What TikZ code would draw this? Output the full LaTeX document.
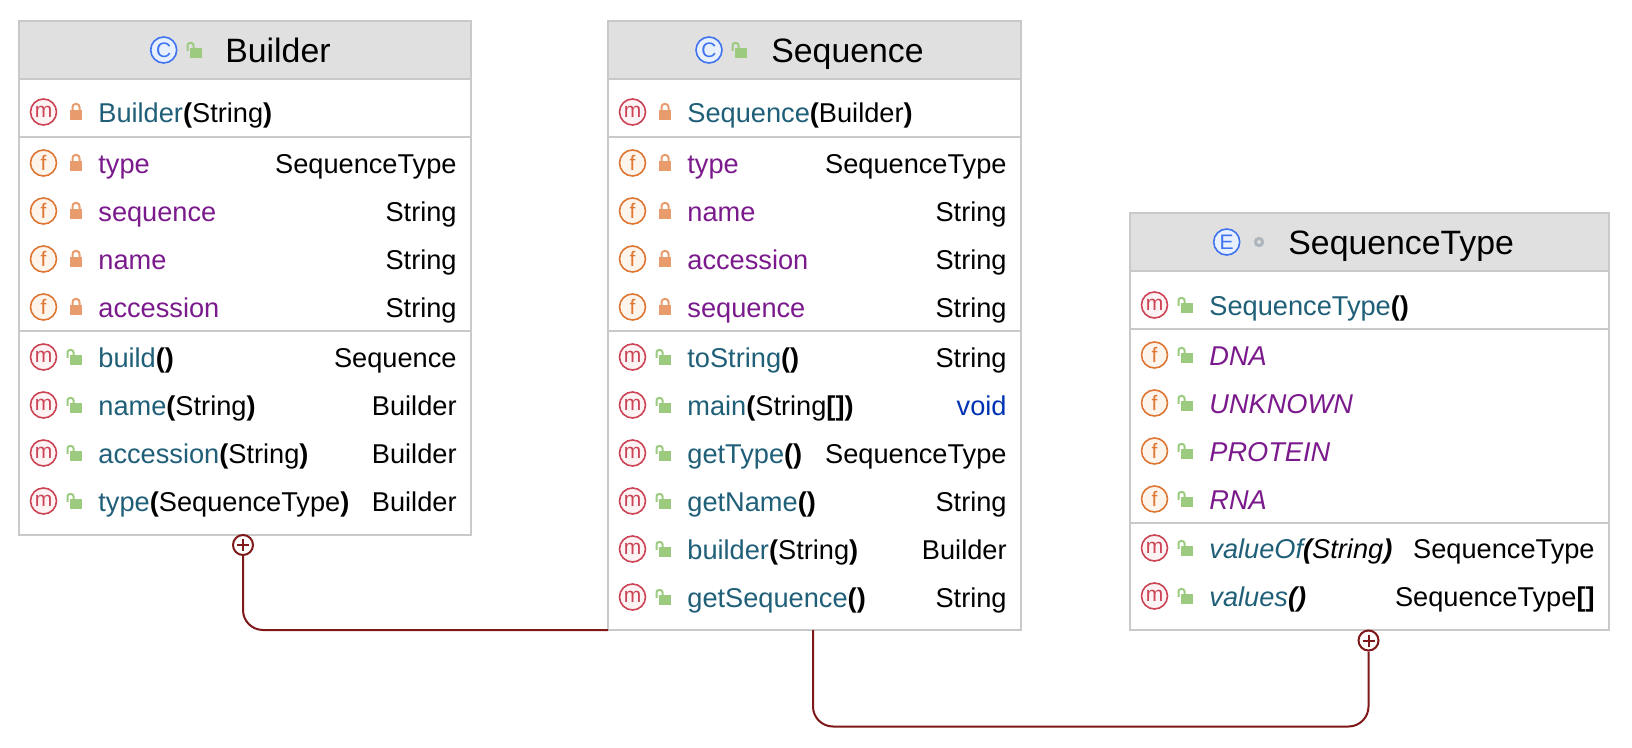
\documentclass[tikz,border=0pt]{standalone}
\usepackage{fontspec}
\setmainfont{Liberation Sans}
\usetikzlibrary{calc}

\definecolor{boxline}{HTML}{C9C9C9}
\definecolor{headfill}{HTML}{E0E0E0}
\definecolor{linkred}{HTML}{7F1818}
\definecolor{methodteal}{HTML}{1F5F78}
\definecolor{fieldpurple}{HTML}{7B1A8C}
\definecolor{voidblue}{HTML}{0033B3}
\definecolor{mred}{HTML}{CC4455}
\definecolor{mfill}{HTML}{FDF3F4}
\definecolor{forange}{HTML}{DD7733}
\definecolor{ffill}{HTML}{FDF4EC}
\definecolor{cblue}{HTML}{3F74EE}
\definecolor{cfill}{HTML}{E8F0FE}
\definecolor{lockorange}{HTML}{E89C6E}
\definecolor{lockgreen}{HTML}{9CCB80}
\definecolor{dotgray}{HTML}{AEB6BD}

\newcommand{\rowfont}{\fontsize{13.6}{16}\selectfont}
\newcommand{\titlefont}{\fontsize{16.9}{20}\selectfont}
\newcommand{\prn}[1]{\textcolor{black}{\textbf{#1}}}
\newcommand{\plain}[1]{\textcolor{black}{#1}}

\tikzset{
  classbox/.style={draw=boxline, line width=1pt, fill=white, inner sep=0pt, outer sep=0pt},
  headbox/.style={classbox, fill=headfill},
  sepline/.style={draw=boxline, line width=1pt},
  micon/.style={circle, draw=mred, fill=mfill, line width=0.8pt, minimum size=13pt, inner sep=0pt, text=mred, font=\fontsize{10.5}{10}\selectfont},
  ficon/.style={micon, draw=forange, fill=ffill, text=forange},
  cicon/.style={micon, draw=cblue, fill=cfill, text=cblue},
  methodtext/.style={anchor=base west, inner sep=0pt, text=methodteal, font=\rowfont},
  fieldtext/.style={methodtext, text=fieldpurple},
  typetext/.style={anchor=base east, inner sep=0pt, text=black, font=\rowfont},
  titletext/.style={anchor=base west, inner sep=0pt, text=black, font=\titlefont},
  closedlock/.pic={
    \fill[lockorange] (-6,-2) rectangle (6,8);
    \draw[lockorange, line width=1pt, rounded corners=1.5pt] (-3.5,-1) -- (-3.5,-8) -- (3.5,-8) -- (3.5,-1);
  },
  openlock/.pic={
    \fill[lockgreen] (-6,-2) rectangle (6,8);
    \draw[lockgreen, line width=1pt, rounded corners=1.2pt] (-8.5,1) -- (-8.5,-7) -- (-2.5,-7) -- (-2.5,-2);
  },
  linkline/.style={draw=linkred, line width=1pt, rounded corners=10pt},
  plusmark/.style={circle, draw=linkred, fill=white, line width=1pt, minimum size=10pt, inner sep=0pt},
  plusbar/.style={draw=linkred, line width=1pt},
}

% one row of a class box: node prefix, box, y, icon style, icon letter, lock pic, text style, text
\newcommand{\classrow}[8]{
  \node[#4] (#1icon) at ($(#2.west |- 0,#3)+(24.5,0)$) {#5};
  \pic at ($(#2.west |- 0,#3)+(57,0)$) {#6};
  \node[#7] (#1text) at ($(#2.west |- 0,#3)+(79,10.5)$) {#8};
}
% type column, right aligned in the box
\newcommand{\rowtype}[4]{
  \node[typetext] (#1type) at ($(#2.east |- 0,#3)+(-14,10.5)$) {#4};
}

\begin{document}
\begin{tikzpicture}[x=0.5pt, y=-0.5pt]
  \useasboundingbox (0,0) rectangle (1632,748);

  % Builder class - left side
  \node[classbox, minimum width=226pt, minimum height=257pt] (builder) at (245,278) {};
  \node[headbox, minimum width=226pt, minimum height=29pt] (builderhead) at (245,50) {};
  \node[cicon] (buildercicon) at (163.7,50) {C};
  \pic at (196,50) {openlock};
  \node[titletext] (buildertitle) at (225,63) {Builder};
  \draw[sepline] (builder.west |- 0,137) -- (builder.east |- 0,137);
  \draw[sepline] (builder.west |- 0,331) -- (builder.east |- 0,331);

  \classrow{bctor}{builder}{112}{micon}{m}{closedlock}{methodtext}{Builder\prn{(}\plain{String}\prn{)}}
  \classrow{btype}{builder}{163}{ficon}{f}{closedlock}{fieldtext}{type}
  \rowtype{btype}{builder}{163}{SequenceType}
  \classrow{bseq}{builder}{211}{ficon}{f}{closedlock}{fieldtext}{sequence}
  \rowtype{bseq}{builder}{211}{String}
  \classrow{bname}{builder}{259}{ficon}{f}{closedlock}{fieldtext}{name}
  \rowtype{bname}{builder}{259}{String}
  \classrow{bacc}{builder}{307}{ficon}{f}{closedlock}{fieldtext}{accession}
  \rowtype{bacc}{builder}{307}{String}
  \classrow{bbuild}{builder}{357}{micon}{m}{openlock}{methodtext}{build\prn{()}}
  \rowtype{bbuild}{builder}{357}{Sequence}
  \classrow{bmname}{builder}{405}{micon}{m}{openlock}{methodtext}{name\prn{(}\plain{String}\prn{)}}
  \rowtype{bmname}{builder}{405}{Builder}
  \classrow{bmacc}{builder}{453}{micon}{m}{openlock}{methodtext}{accession\prn{(}\plain{String}\prn{)}}
  \rowtype{bmacc}{builder}{453}{Builder}
  \classrow{bmtype}{builder}{501}{micon}{m}{openlock}{methodtext}{type\prn{(}\plain{SequenceType}\prn{)}}
  \rowtype{bmtype}{builder}{501}{Builder}

  % Sequence class - middle
  \node[classbox, minimum width=206.5pt, minimum height=304.5pt] (sequence) at (814.5,325.5) {};
  \node[headbox, minimum width=206.5pt, minimum height=29pt] (sequencehead) at (814.5,50) {};
  \node[cicon] (sequencecicon) at (709,50) {C};
  \pic at (741,50) {openlock};
  \node[titletext] (sequencetitle) at (771,63) {Sequence};
  \draw[sepline] (sequence.west |- 0,137) -- (sequence.east |- 0,137);
  \draw[sepline] (sequence.west |- 0,331) -- (sequence.east |- 0,331);

  \classrow{sctor}{sequence}{112}{micon}{m}{closedlock}{methodtext}{Sequence\prn{(}\plain{Builder}\prn{)}}
  \classrow{stype}{sequence}{163}{ficon}{f}{closedlock}{fieldtext}{type}
  \rowtype{stype}{sequence}{163}{SequenceType}
  \classrow{sname}{sequence}{211}{ficon}{f}{closedlock}{fieldtext}{name}
  \rowtype{sname}{sequence}{211}{String}
  \classrow{sacc}{sequence}{259}{ficon}{f}{closedlock}{fieldtext}{accession}
  \rowtype{sacc}{sequence}{259}{String}
  \classrow{sseq}{sequence}{307}{ficon}{f}{closedlock}{fieldtext}{sequence}
  \rowtype{sseq}{sequence}{307}{String}
  \classrow{sstr}{sequence}{357}{micon}{m}{openlock}{methodtext}{toString\prn{()}}
  \rowtype{sstr}{sequence}{357}{String}
  \classrow{smain}{sequence}{405}{micon}{m}{openlock}{methodtext}{main\prn{(}\plain{String}\prn{[])}}
  \rowtype{smain}{sequence}{405}{\textcolor{voidblue}{void}}
  \classrow{sgtype}{sequence}{453}{micon}{m}{openlock}{methodtext}{getType\prn{()}}
  \rowtype{sgtype}{sequence}{453}{SequenceType}
  \classrow{sgname}{sequence}{501}{micon}{m}{openlock}{methodtext}{getName\prn{()}}
  \rowtype{sgname}{sequence}{501}{String}
  \classrow{sbuild}{sequence}{549}{micon}{m}{openlock}{methodtext}{builder\prn{(}\plain{String}\prn{)}}
  \rowtype{sbuild}{sequence}{549}{Builder}
  \classrow{sgseq}{sequence}{597}{micon}{m}{openlock}{methodtext}{getSequence\prn{()}}
  \rowtype{sgseq}{sequence}{597}{String}

  % SequenceType enum - right side
  \node[classbox, minimum width=239.5pt, minimum height=208.5pt] (seqtype) at (1369.5,421.5) {};
  \node[headbox, minimum width=239.5pt, minimum height=29pt] (seqtypehead) at (1369.5,242) {};
  \node[cicon] (seqtypeeicon) at (1226.7,242) {E};
  \node[circle, draw=dotgray, line width=1.5pt, minimum size=3.6pt, inner sep=0pt] (seqtypedot) at (1259,242) {};
  \node[titletext] (seqtypetitle) at (1288,255) {SequenceType};
  \draw[sepline] (seqtype.west |- 0,329) -- (seqtype.east |- 0,329);
  \draw[sepline] (seqtype.west |- 0,523) -- (seqtype.east |- 0,523);

  \classrow{tctor}{seqtype}{305}{micon}{m}{openlock}{methodtext}{SequenceType\prn{()}}
  \classrow{tdna}{seqtype}{355}{ficon}{f}{openlock}{fieldtext}{\itshape DNA}
  \classrow{tunk}{seqtype}{403}{ficon}{f}{openlock}{fieldtext}{\itshape UNKNOWN}
  \classrow{tprot}{seqtype}{451}{ficon}{f}{openlock}{fieldtext}{\itshape PROTEIN}
  \classrow{trna}{seqtype}{499}{ficon}{f}{openlock}{fieldtext}{\itshape RNA}
  \classrow{tval}{seqtype}{548}{micon}{m}{openlock}{methodtext}{\itshape valueOf\prn{(}\plain{String}\prn{)}}
  \rowtype{tval}{seqtype}{548}{SequenceType}
  \classrow{tvals}{seqtype}{596}{micon}{m}{openlock}{methodtext}{\itshape values\prn{()}}
  \rowtype{tvals}{seqtype}{596}{SequenceType\textbf{[]}}

  % Nesting links
  \node[plusmark] (builderplus) at (243,545) {};
  \draw[plusbar] (builderplus.center) +(-6,0) -- +(6,0) +(0,-6) -- +(0,6);
  \draw[linkline] (builderplus.south) |- (sequence.south west);

  \coordinate (seqout) at ($(sequence.south)+(-1.5,0)$);
  \node[plusmark] (seqtypeplus) at (1368.5,640.5) {};
  \draw[plusbar] (seqtypeplus.center) +(-6,0) -- +(6,0) +(0,-6) -- +(0,6);
  \draw[linkline] (seqout) -- (seqout |- 0,726.5) -- (seqtypeplus.south |- 0,726.5) -- (seqtypeplus.south);
\end{tikzpicture}
\end{document}
